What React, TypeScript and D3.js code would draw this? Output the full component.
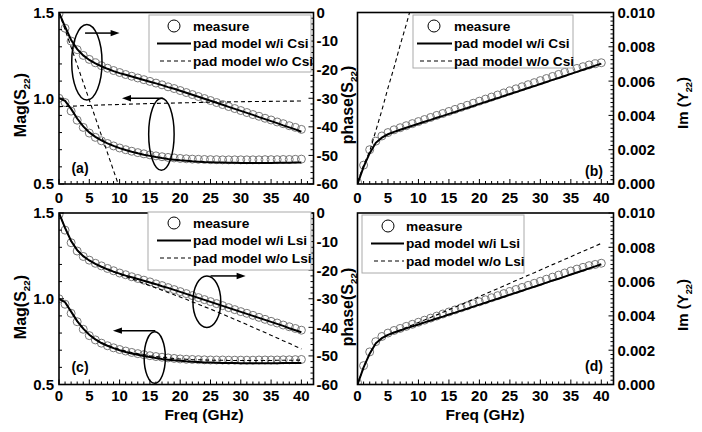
import React from 'react';
import * as d3 from 'd3';

// ---------------- data ----------------
const freq = [0,1,2,3,4,5,6,7,8,9,10,11,12,13,14,15,16,17,18,19,20,21,22,23,24,25,26,27,28,29,30,31,32,33,34,35,36,37,38,39,40];
const freqStep5 = [0,5,10,15,20,25,30,35,40];
const freqShort = [0,1,2,3,4,5,6,7,8,9,10];

// (a) Mag / phase with Csi
const magMeasA = [1.000,0.975,0.925,0.872,0.830,0.797,0.772,0.752,0.736,0.722,0.710,0.700,0.691,0.683,0.676,0.670,0.664,0.659,0.655,0.652,0.649,0.647,0.645,0.644,0.643,0.642,0.642,0.641,0.641,0.641,0.641,0.641,0.641,0.641,0.642,0.642,0.642,0.643,0.643,0.644,0.645];
const magModelA = [1.000,0.985,0.938,0.882,0.836,0.801,0.775,0.754,0.737,0.722,0.709,0.698,0.688,0.679,0.671,0.664,0.657,0.651,0.646,0.642,0.638,0.635,0.632,0.630,0.628,0.627,0.626,0.625,0.624,0.624,0.623,0.623,0.623,0.623,0.623,0.623,0.624,0.624,0.624,0.625,0.625];
const magNoCsi = [0.951,0.958,0.964,0.969,0.973,0.977,0.980,0.982,0.984];
const phaseMeasA = [-0.5,-5.5,-10.0,-13.0,-15.0,-16.4,-17.6,-18.6,-19.5,-20.3,-21.0,-21.7,-22.3,-22.9,-23.5,-24.1,-24.7,-25.3,-26.0,-26.6,-27.3,-28.0,-28.7,-29.4,-30.1,-30.8,-31.5,-32.2,-32.9,-33.6,-34.3,-35.0,-35.7,-36.3,-37.0,-37.6,-38.3,-38.9,-39.6,-40.2,-40.9];
const phaseModelA = [0,-5.0,-9.6,-12.8,-15.0,-16.6,-17.8,-18.8,-19.7,-20.5,-21.2,-21.8,-22.4,-23.0,-23.6,-24.2,-24.8,-25.4,-26.1,-26.7,-27.4,-28.1,-28.8,-29.5,-30.2,-30.9,-31.6,-32.3,-33.0,-33.7,-34.4,-35.1,-35.8,-36.6,-37.3,-38.0,-38.7,-39.5,-40.2,-40.9,-41.7];
const phaseNoCsi = [0,-6.0,-12.1,-18.3,-24.5,-30.6,-36.8,-43.0,-49.1,-55.3,-61.4];

// (b) Im(Y22) with Csi
const imMeasB = [0.0001,0.0011,0.0020,0.0025,0.0028,0.0030,0.00316,0.00328,0.00340,0.00352,0.00364,0.00376,0.00388,0.00400,0.00411,0.00423,0.00435,0.00447,0.00459,0.00471,0.00483,0.00495,0.00507,0.00519,0.00531,0.00543,0.00555,0.00567,0.00579,0.00591,0.00603,0.00615,0.00627,0.00639,0.00651,0.00663,0.00674,0.00684,0.00694,0.00701,0.00707];
const imModelB = [0,0.0010,0.0018,0.0024,0.0027,0.00290,0.00304,0.00316,0.00328,0.00340,0.00351,0.00363,0.00374,0.00386,0.00397,0.00409,0.00420,0.00432,0.00443,0.00455,0.00467,0.00478,0.00490,0.00501,0.00513,0.00525,0.00536,0.00548,0.00560,0.00571,0.00583,0.00595,0.00607,0.00618,0.00630,0.00642,0.00654,0.00666,0.00678,0.00690,0.00702];
const imNoCsi = [0.0001,0.0011,0.0019,0.0031,0.0043,0.0056,0.0068,0.0081,0.0093,0.0106,0.0118];

// (c) Mag / phase with Lsi
const magMeasC = [1.000,0.968,0.915,0.866,0.822,0.785,0.760,0.741,0.726,0.714,0.704,0.695,0.687,0.680,0.674,0.668,0.663,0.659,0.655,0.652,0.649,0.647,0.646,0.645,0.644,0.643,0.643,0.643,0.642,0.642,0.642,0.642,0.642,0.643,0.643,0.643,0.643,0.644,0.644,0.645,0.646];
const magModelC = [1.000,0.980,0.925,0.870,0.826,0.790,0.763,0.742,0.726,0.712,0.700,0.690,0.681,0.673,0.666,0.660,0.654,0.649,0.645,0.641,0.638,0.635,0.633,0.631,0.629,0.628,0.627,0.626,0.625,0.625,0.624,0.624,0.624,0.624,0.624,0.624,0.624,0.625,0.625,0.625,0.626];
const magNoLsi = [1.000,0.980,0.925,0.870,0.826,0.790,0.764,0.744,0.728,0.715,0.704,0.695,0.687,0.680,0.674,0.668,0.663,0.659,0.655,0.652,0.649,0.647,0.645,0.644,0.643,0.642,0.641,0.641,0.640,0.640,0.640,0.640,0.640,0.640,0.640,0.640,0.641,0.641,0.641,0.642,0.642];
const phaseMeasC = [-0.6,-6.0,-10.4,-13.3,-15.2,-16.5,-17.6,-18.5,-19.4,-20.2,-21.0,-21.6,-22.3,-22.9,-23.5,-24.1,-24.8,-25.4,-26.1,-26.8,-27.5,-28.2,-28.9,-29.6,-30.3,-31.0,-31.7,-32.4,-33.1,-33.8,-34.5,-35.1,-35.8,-36.5,-37.2,-37.9,-38.5,-39.2,-39.8,-40.4,-41.0];
const phaseModelC = [0,-5.2,-9.8,-13.0,-15.1,-16.6,-17.8,-18.8,-19.7,-20.5,-21.2,-21.9,-22.5,-23.1,-23.7,-24.3,-24.9,-25.6,-26.2,-26.9,-27.6,-28.3,-29.0,-29.7,-30.4,-31.1,-31.8,-32.5,-33.2,-33.9,-34.6,-35.3,-36.0,-36.7,-37.4,-38.1,-38.8,-39.5,-40.3,-41.0,-41.7];
const phaseNoLsi = [0,-5.2,-9.8,-13.0,-15.1,-16.6,-17.8,-18.8,-19.8,-20.6,-21.4,-22.2,-23.0,-23.8,-24.6,-25.4,-26.2,-27.0,-27.8,-28.6,-29.4,-30.2,-31.1,-31.9,-32.8,-33.6,-34.5,-35.4,-36.3,-37.2,-38.1,-39.0,-40.0,-40.9,-41.8,-42.8,-43.7,-44.7,-45.6,-46.6,-47.6];

// (d) Im(Y22) with Lsi
const imMeasD = [0.0001,0.0011,0.0019,0.0025,0.0028,0.0030,0.00315,0.00327,0.00339,0.00351,0.00363,0.00375,0.00387,0.00399,0.00411,0.00423,0.00435,0.00447,0.00459,0.00471,0.00482,0.00494,0.00506,0.00518,0.00530,0.00542,0.00554,0.00566,0.00578,0.00590,0.00602,0.00614,0.00626,0.00638,0.00650,0.00662,0.00673,0.00683,0.00693,0.00700,0.00707];
const imModelD = [0,0.0010,0.0018,0.0024,0.0027,0.00289,0.00303,0.00315,0.00327,0.00339,0.00350,0.00362,0.00373,0.00385,0.00396,0.00408,0.00419,0.00431,0.00442,0.00454,0.00466,0.00477,0.00489,0.00500,0.00512,0.00524,0.00535,0.00547,0.00559,0.00570,0.00582,0.00594,0.00606,0.00617,0.00629,0.00641,0.00653,0.00665,0.00677,0.00689,0.00701];
const imNoLsi = [0,0.0010,0.0018,0.0024,0.0027,0.00290,0.00305,0.00318,0.00333,0.00347,0.00362,0.00376,0.00391,0.00406,0.00421,0.00436,0.00451,0.00466,0.00482,0.00497,0.00513,0.00528,0.00544,0.00559,0.00575,0.00590,0.00606,0.00621,0.00637,0.00652,0.00668,0.00683,0.00699,0.00714,0.00730,0.00745,0.00761,0.00776,0.00792,0.00807,0.00823];

// ticks
const freqTicks = [0,5,10,15,20,25,30,35,40];
const magTicks = [0.5,1.0,1.5];
const phaseTicks = [0,-10,-20,-30,-40,-50,-60];
const imTicks = [0,0.002,0.004,0.006,0.008,0.010];

// legend texts
const legendCsi = ['measure','pad model w/i Csi','pad model w/o Csi'];
const legendLsi = ['measure','pad model w/i Lsi','pad model w/o Lsi'];

// annotations (data units: freq, Mag)
const ellipsesA = [{f:4.6,v:1.21,rf:2.5,rv:0.22},{f:16.9,v:0.79,rf:2.1,rv:0.21}];
const arrowsA = [{f0:4.3,v0:1.38,f1:10.0,v1:1.38},{f0:17.2,v0:1.0,f1:10.4,v1:1.0}];
const ellipsesC = [{f:24.4,v:0.983,rf:2.3,rv:0.15},{f:15.8,v:0.657,rf:1.75,rv:0.15}];
const arrowsC = [{f0:25.0,v0:1.133,f1:30.8,v1:1.133},{f0:15.9,v0:0.814,f1:8.9,v1:0.814}];

// ---------------- layout ----------------
const FONT = "'Liberation Sans', Arial, Helvetica, sans-serif";
const LX = [59, 313.5];
const RX = [357.5, 613.5];
const TY = [184, 12.5];
const BY = [384.5, 213];

type Ser = { xs: number[]; ys: number[]; kind: 'meas' | 'solid' | 'dash'; y: d3.ScaleLinear<number, number> };

function Panel(props: {
  id: string;
  xr: number[];
  yr: number[];
  series: Ser[];
  leftAxis: boolean;
  rightKind: 'phase' | 'im';
  legend: { x: number; y: number; w: number; h: number; labels: string[]; sym: number; tx: number };
  tag: string;
  tagPos: [number, number];
  ellipses?: any[];
  arrows?: any[];
  xLabelY: number;
}) {
  const { id, xr, yr, series, leftAxis, rightKind, legend, tag, tagPos } = props;
  const x = d3.scaleLinear().domain([0, 42]).range(xr);
  const yMag = d3.scaleLinear().domain([0.5, 1.5]).range(yr);
  const yR = rightKind === 'phase'
    ? d3.scaleLinear().domain([-60, 0]).range(yr)
    : d3.scaleLinear().domain([0, 0.01]).range(yr);
  const [x0, x1] = xr;
  const [yb, yt] = yr;
  const clipId = 'clip-' + id;
  const minorX = d3.range(0, 42.01, 1);
  const minorL = d3.range(0.5, 1.5001, 0.1);
  const minorR = rightKind === 'phase' ? d3.range(-60, 0.01, 2) : d3.range(0, 0.010001, 0.00025);
  const isMajorR = (v: number) => rightKind === 'phase' ? Math.abs(v % 10) < 1e-6 : Math.abs(Math.round(v / 0.002) * 0.002 - v) < 1e-7;
  const line = (s: Ser) => d3.line<number>().x((_, i) => x(s.xs[i])).y((v) => s.y(v))(s.ys) || '';
  return (
    <g>
      <defs>
        <clipPath id={clipId}>
          <rect x={x0} y={yt} width={x1 - x0} height={yb - yt} />
        </clipPath>
      </defs>
      <g clipPath={`url(#${clipId})`}>
        {series.filter(s => s.kind === 'meas').map((s, k) => (
          <g key={'m' + k}>
            {s.ys.map((v, i) => (
              <circle key={i} cx={x(s.xs[i])} cy={s.y(v)} r={4} fill="none" stroke="#777" strokeWidth={1} />
            ))}
          </g>
        ))}
        {series.filter(s => s.kind !== 'meas').map((s, k) => (
          <path key={'l' + k} d={line(s)} fill="none" stroke="#000"
            strokeWidth={s.kind === 'solid' ? 2 : 1.1}
            strokeDasharray={s.kind === 'dash' ? '4,3' : undefined} />
        ))}
      </g>
      {minorX.map((f, i) => {
        const major = Math.round(f) % 5 === 0;
        return <line key={'bx' + i} x1={x(f)} x2={x(f)} y1={yb} y2={yb - (major ? 5 : 3)} stroke="#000" strokeWidth={1} />;
      })}
      {leftAxis && minorL.map((v, i) => {
        const major = Math.abs((v * 10) % 5) < 1e-6 || Math.abs((v * 10) % 5 - 5) < 1e-6;
        return <line key={'lt' + i} x1={x0} x2={x0 + (major ? 5 : 3)} y1={yMag(v)} y2={yMag(v)} stroke="#000" strokeWidth={1} />;
      })}
      {minorR.map((v, i) => {
        const major = isMajorR(v);
        return <line key={'rt' + i} x1={x1} x2={x1 - (major ? 5 : 3)} y1={yR(v)} y2={yR(v)} stroke="#000" strokeWidth={1} />;
      })}
      <rect x={x0} y={yt} width={x1 - x0} height={yb - yt} fill="none" stroke="#000" strokeWidth={1.6} />
      <g fontFamily={FONT} fontWeight={700} fontSize={15} fill="#000">
        {freqTicks.map((f) => (
          <text key={'xl' + f} x={x(f)} y={props.xLabelY} textAnchor="middle">{f}</text>
        ))}
        {leftAxis && magTicks.map((v) => (
          <text key={'ml' + v} x={x0 - 5} y={yMag(v)} dy="0.36em" textAnchor="end">{v.toFixed(1)}</text>
        ))}
        {rightKind === 'phase'
          ? phaseTicks.map((v) => (
            <text key={'pl' + v} x={x1 + 3} y={yR(v)} dy="0.36em" textAnchor="start">{v === 0 ? '0' : '-' + Math.abs(v)}</text>
          ))
          : imTicks.map((v) => (
            <text key={'il' + v} x={x1 + 4} y={yR(v)} dy="0.36em" textAnchor="start">{v.toFixed(3)}</text>
          ))}
      </g>
      {(props.ellipses || []).map((e, i) => (
        <ellipse key={'e' + i} cx={x(e.f)} cy={yMag(e.v)} rx={x(e.f + e.rf) - x(e.f)} ry={yMag(e.v) - yMag(e.v + e.rv)}
          fill="none" stroke="#000" strokeWidth={1.5} />
      ))}
      {(props.arrows || []).map((a, i) => {
        const ax0 = x(a.f0), ay0 = yMag(a.v0), ax1 = x(a.f1), ay1 = yMag(a.v1);
        const dir = ax1 > ax0 ? 1 : -1;
        const hl = 9;
        return (
          <g key={'a' + i}>
            <line x1={ax0} y1={ay0} x2={ax1 - dir * hl * 0.8} y2={ay1} stroke="#000" strokeWidth={1.5} />
            <path d={`M${ax1},${ay1} L${ax1 - dir * hl},${ay1 - 3.2} L${ax1 - dir * hl},${ay1 + 3.2} Z`} fill="#000" />
          </g>
        );
      })}
      <g>
        <rect x={legend.x} y={legend.y} width={legend.w} height={legend.h} fill="#fff" stroke="#aaa" strokeWidth={1} />
        <circle cx={legend.sym} cy={legend.y + 11} r={6} fill="none" stroke="#000" strokeWidth={1} />
        <line x1={legend.sym - 17} x2={legend.tx - 1} y1={legend.y + 28.5} y2={legend.y + 28.5} stroke="#000" strokeWidth={2} />
        <line x1={legend.sym - 14} x2={legend.tx - 1} y1={legend.y + 46} y2={legend.y + 46} stroke="#000" strokeWidth={1.1} strokeDasharray="4,3" />
        <g fontFamily={FONT} fontWeight={700} fontSize={13.7} fill="#000">
          {legend.labels.map((t, i) => (
            <text key={t} x={legend.tx + 1} y={legend.y + 11 + i * 17.5} dy="0.36em">{t}</text>
          ))}
        </g>
      </g>
      <text x={tagPos[0]} y={tagPos[1]} dy="0.36em" textAnchor="middle" fontFamily={FONT} fontWeight={700} fontSize={14}>{tag}</text>
    </g>
  );
}

function SubLabel({ x, y, main, sub, size }: { x: number; y: number; main: string; sub: string; size: number }) {
  return (
    <text transform={`translate(${x},${y}) rotate(-90)`} textAnchor="middle" fontFamily={FONT} fontWeight={700} fontSize={size} fill="#000">
      {main}
      <tspan fontSize={size * 0.62} dy={4}>{sub}</tspan>
      <tspan dy={-4}>)</tspan>
    </text>
  );
}

export default function App() {
  const yMagT = d3.scaleLinear().domain([0.5, 1.5]).range(TY);
  const yPhT = d3.scaleLinear().domain([-60, 0]).range(TY);
  const yImT = d3.scaleLinear().domain([0, 0.01]).range(TY);
  const yMagB = d3.scaleLinear().domain([0.5, 1.5]).range(BY);
  const yPhB = d3.scaleLinear().domain([-60, 0]).range(BY);
  const yImB = d3.scaleLinear().domain([0, 0.01]).range(BY);

  return (
    <svg width={702} height={432} viewBox="0 0 702 432" style={{ position: 'absolute', left: 0, top: 0, background: '#fff' }}>
      <rect x={0} y={0} width={702} height={432} fill="#fff" />
      <Panel id="a" xr={LX} yr={TY} leftAxis rightKind="phase" xLabelY={202.5}
        series={[
          { xs: freq, ys: magMeasA, kind: 'meas', y: yMagT },
          { xs: freq, ys: phaseMeasA, kind: 'meas', y: yPhT },
          { xs: freq, ys: magModelA, kind: 'solid', y: yMagT },
          { xs: freq, ys: phaseModelA, kind: 'solid', y: yPhT },
          { xs: freqStep5, ys: magNoCsi, kind: 'dash', y: yMagT },
          { xs: freqShort, ys: phaseNoCsi, kind: 'dash', y: yPhT },
        ]}
        legend={{ x: 149, y: 15, w: 162, h: 57, labels: legendCsi, sym: 174, tx: 192 }}
        tag="(a)" tagPos={[80, 167.5]} ellipses={ellipsesA} arrows={arrowsA} />
      <Panel id="b" xr={RX} yr={TY} leftAxis={false} rightKind="im" xLabelY={202.5}
        series={[
          { xs: freq, ys: imMeasB, kind: 'meas', y: yImT },
          { xs: freq, ys: imModelB, kind: 'solid', y: yImT },
          { xs: freqShort, ys: imNoCsi, kind: 'dash', y: yImT },
        ]}
        legend={{ x: 413, y: 15, w: 160, h: 53, labels: legendCsi, sym: 434, tx: 453 }}
        tag="(b)" tagPos={[594, 171]} />
      <Panel id="c" xr={LX} yr={BY} leftAxis rightKind="phase" xLabelY={400.5}
        series={[
          { xs: freq, ys: magMeasC, kind: 'meas', y: yMagB },
          { xs: freq, ys: phaseMeasC, kind: 'meas', y: yPhB },
          { xs: freq, ys: magModelC, kind: 'solid', y: yMagB },
          { xs: freq, ys: phaseModelC, kind: 'solid', y: yPhB },
          { xs: freq, ys: magNoLsi, kind: 'dash', y: yMagB },
          { xs: freq, ys: phaseNoLsi, kind: 'dash', y: yPhB },
        ]}
        legend={{ x: 148, y: 212, w: 163, h: 58, labels: legendLsi, sym: 174, tx: 192 }}
        tag="(c)" tagPos={[80, 367]} ellipses={ellipsesC} arrows={arrowsC} />
      <Panel id="d" xr={RX} yr={BY} leftAxis={false} rightKind="im" xLabelY={400.5}
        series={[
          { xs: freq, ys: imMeasD, kind: 'meas', y: yImB },
          { xs: freq, ys: imModelD, kind: 'solid', y: yImB },
          { xs: freq, ys: imNoLsi, kind: 'dash', y: yImB },
        ]}
        legend={{ x: 362, y: 215, w: 162, h: 58, labels: legendLsi, sym: 388, tx: 405 }}
        tag="(d)" tagPos={[594, 366]} />

      <SubLabel x={26} y={105} main="Mag(S" sub="22" size={16} />
      <SubLabel x={26} y={307} main="Mag(S" sub="22" size={16} />
      <SubLabel x={353} y={105} main="phase(S" sub="22" size={16} />
      <SubLabel x={353} y={307} main="phase(S" sub="22" size={16} />
      <SubLabel x={688} y={103} main="Im (Y" sub="22" size={15} />
      <SubLabel x={688} y={305} main="Im (Y" sub="22" size={15} />

      <text x={204} y={420} textAnchor="middle" fontFamily={FONT} fontWeight={700} fontSize={15.5}>Freq (GHz)</text>
      <text x={485} y={420} textAnchor="middle" fontFamily={FONT} fontWeight={700} fontSize={15.5}>Freq (GHz)</text>
    </svg>
  );
}
